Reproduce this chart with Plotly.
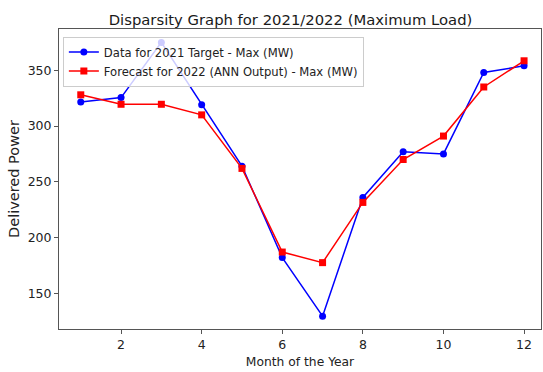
import plotly.graph_objects as go

months = [1, 2, 3, 4, 5, 6, 7, 8, 9, 10, 11, 12]
target_2021 = [321.5, 325.5, 375, 319, 264, 182, 129.5, 236, 277, 275, 348, 354]
forecast_2022 = [328, 319.5, 319.5, 310, 262, 187, 177.5, 231.5, 270, 291, 335, 358.5]
x_ticks = [2, 4, 6, 8, 10, 12]
y_ticks = [150, 200, 250, 300, 350]

font = "DejaVu Sans, Liberation Sans, sans-serif"

fig = go.Figure()
fig.add_trace(go.Scatter(
    x=months, y=target_2021, mode="lines+markers",
    name="Data for 2021 Target - Max (MW)",
    line=dict(color="#0000ff", width=1.5),
    marker=dict(symbol="circle", size=7, color="#0000ff"),
))
fig.add_trace(go.Scatter(
    x=months, y=forecast_2022, mode="lines+markers",
    name="Forecast for 2022 (ANN Output) - Max (MW)",
    line=dict(color="#ff0000", width=1.5),
    marker=dict(symbol="square", size=7, color="#ff0000"),
))

axis_common = dict(
    showgrid=False, zeroline=False, showline=True, linecolor="#555555", linewidth=1,
    mirror=True, ticks="outside", ticklen=4, tickcolor="#555555",
    tickfont=dict(family=font, size=12.5, color="#222222"),
)

fig.update_layout(
    width=543, height=372,
    margin=dict(l=59, r=2, t=29, b=43),
    paper_bgcolor="white", plot_bgcolor="white",
    title=dict(text="Disparsity Graph for 2021/2022 (Maximum Load)",
               font=dict(family=font, size=14.8, color="#1a1a1a"),
               x=0.535, xanchor="center", y=0.947, yanchor="middle"),
    xaxis=dict(range=[0.46, 12.42], tickvals=x_ticks,
               title=dict(text="Month of the Year", font=dict(family=font, size=12.3, color="#222222"), standoff=6),
               **axis_common),
    yaxis=dict(range=[118, 387], tickvals=y_ticks,
               title=dict(text="Delivered Power", font=dict(family=font, size=14.5, color="#222222"), standoff=4),
               **axis_common),
    legend=dict(x=0.008, y=0.975, xanchor="left", yanchor="top",
                bgcolor="rgba(255,255,255,0.8)", bordercolor="#cccccc", borderwidth=1,
                font=dict(family=font, size=11.6, color="#222222"), tracegroupgap=1,
                itemwidth=30),
    showlegend=True,
)

fig.write_html("out.html")
